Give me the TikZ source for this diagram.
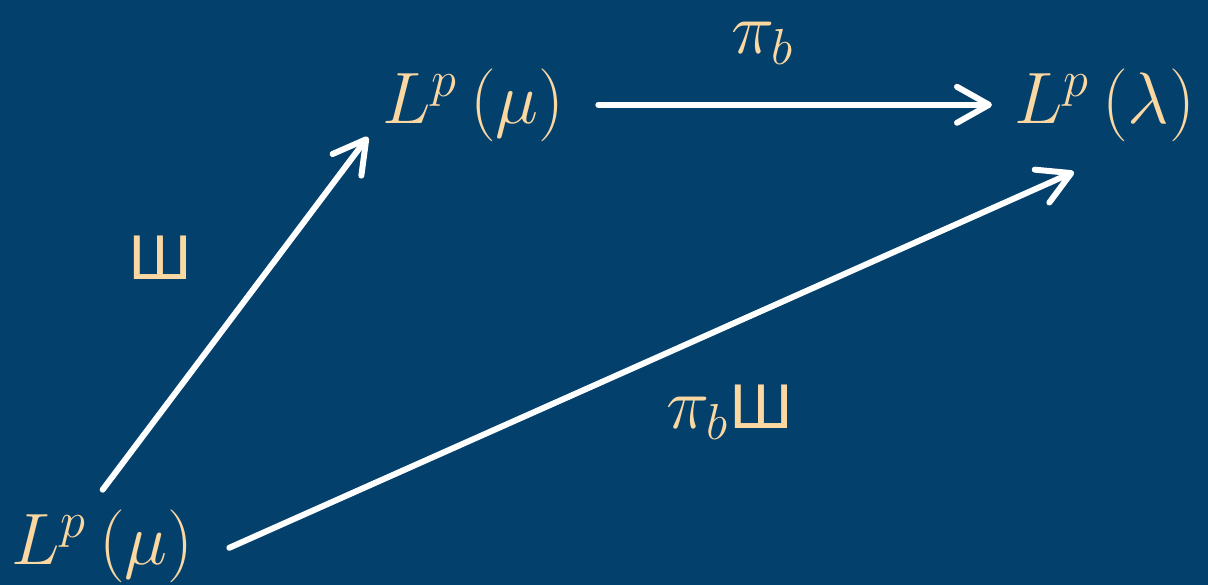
\documentclass[tikz,border=0pt]{standalone}
\usepackage{fontspec}
\usetikzlibrary{arrows.meta}
\newfontfamily\shafont{DejaVu Sans}
\definecolor{bgblue}{RGB}{3,64,107}
\definecolor{peach}{RGB}{251,215,162}
\newcommand{\sha}{\mbox{\fontsize{17}{20}\shafont Ш}}
\begin{document}
\begin{tikzpicture}[
  space/.style={text=peach,inner sep=0pt,anchor=base west,font=\fontsize{21}{25}\selectfont},
  lbl/.style={text=peach,inner sep=0pt,font=\fontsize{21}{25}\selectfont},
  arr/.style={white,line width=1.7pt,line cap=round,-{Straight Barb[length=3.2mm,width=3.6mm,round]}}]
\fill[bgblue] (0,0) rectangle (12.08,5.85);
\useasboundingbox (0,0) rectangle (12.08,5.85);

\node[space] (A) at (0.11,0.21) {$L^{p}\,(\mu)$};
\node[space] (B) at (3.82,4.62) {$L^{p}\,(\mu)$};
\node[space] (C) at (10.14,4.62) {$L^{p}\,(\lambda)$};

\draw[arr] ([yshift=0.19cm]A.north) -- ([shift={(-0.14,0.05)}]B.south west);
\draw[arr,shorten <=0.33cm,shorten >=0.22cm] (B.east) -- (C.west);
\draw[arr] ([shift={(0.35,-0.02)}]A.east) -- ([shift={(-0.31,-0.30)}]C.south);

\node[lbl] (top) at (7.63,5.42) {$\pi_b$};
\node[lbl] (left) at (1.60,3.27) {\sha};
\node[lbl] (bot) at (7.30,1.73) {$\pi_b$\sha};
\end{tikzpicture}
\end{document}
